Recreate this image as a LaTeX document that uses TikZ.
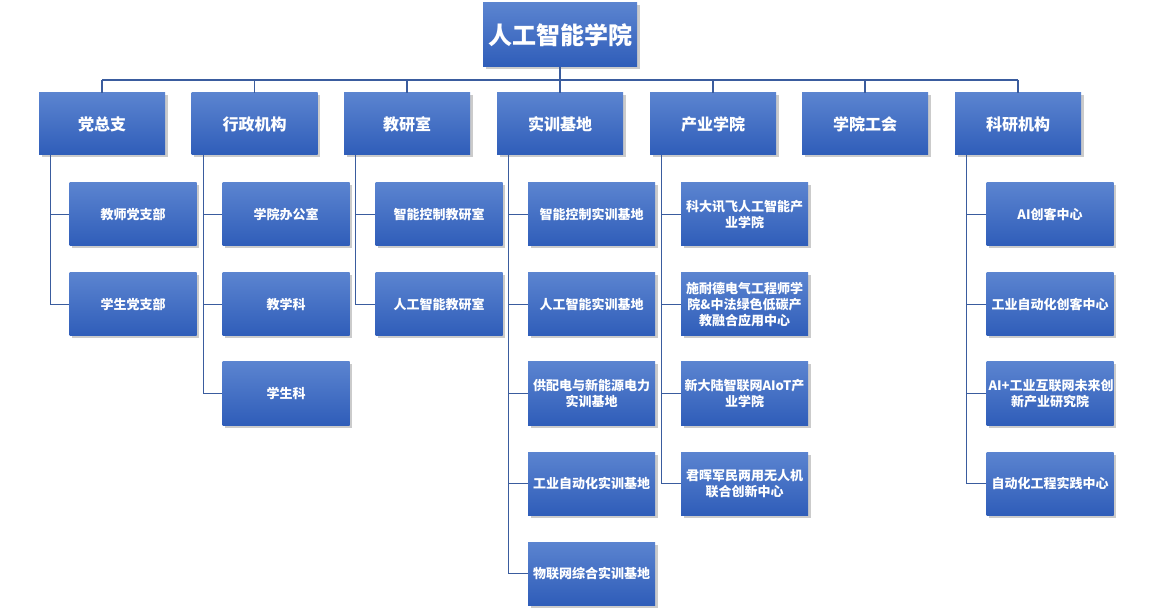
\documentclass[tikz,border=0pt]{standalone}
\usepackage{fontspec}
\newfontfamily\cjk{Noto Sans CJK SC}
\usetikzlibrary{shadows,calc}
\definecolor{boxtop}{HTML}{5B84D0}
\definecolor{boxbot}{HTML}{2F5DB9}
\definecolor{lineblue}{HTML}{3A5C9E}
\tikzset{
  box/.style={rectangle, top color=boxtop, bottom color=boxbot, draw=none,
    text=white, align=center, inner sep=2pt,
    drop shadow={shadow xshift=2.5pt, shadow yshift=-2.5pt, fill=black!45, opacity=0.45}},
  rootbox/.style={box, minimum width=154pt, minimum height=64pt, font=\cjk\bfseries\fontsize{24}{28}\selectfont},
  lvbox/.style={box, minimum width=126pt, minimum height=62pt, font=\cjk\bfseries\fontsize{16}{19}\selectfont},
  chbox/.style={box, minimum width=127pt, minimum height=63pt, text width=123pt, font=\cjk\bfseries\fontsize{13}{16}\selectfont},
  conn/.style={draw=lineblue, line width=1.3pt}
}
\begin{document}
\begin{tikzpicture}[x=1pt,y=-1pt]
\useasboundingbox (0,0) rectangle (1152,612);
% root
\node[rootbox] (root) at (560,35) {人工智能学院};
\coordinate (bus) at (560,80);
% level 2
\node[lvbox] (a) at (102,124) {党总支};
\node[lvbox] (b) at (254.5,124) {行政机构};
\node[lvbox] (c) at (407,124) {教研室};
\node[lvbox] (d) at (560,124) {实训基地};
\node[lvbox] (e) at (713,124) {产业学院};
\node[lvbox] (f) at (865,124) {学院工会};
\node[lvbox] (g) at (1018,124) {科研机构};
% children
\node[chbox] (a1) at (133,214.5) {教师党支部};
\node[chbox] (a2) at (133,304.5) {学生党支部};
\node[chbox] (b1) at (286,214.5) {学院办公室};
\node[chbox] (b2) at (286,304.5) {教学科};
\node[chbox] (b3) at (286,393.5) {学生科};
\node[chbox] (c1) at (439,214.5) {智能控制教研室};
\node[chbox] (c2) at (439,304.5) {人工智能教研室};
\node[chbox] (d1) at (591.5,214.5) {智能控制实训基地};
\node[chbox] (d2) at (591.5,304.5) {人工智能实训基地};
\node[chbox] (d3) at (591.5,393.5) {供配电与新能源电力\\实训基地};
\node[chbox] (d4) at (591.5,483.5) {工业自动化实训基地};
\node[chbox] (d5) at (591.5,573.5) {物联网综合实训基地};
\node[chbox] (e1) at (744.5,214.5) {科大讯飞人工智能产\\业学院};
\node[chbox] (e2) at (744.5,304.5) {施耐德电气工程师学\\院\&中法绿色低碳产\\教融合应用中心};
\node[chbox] (e3) at (744.5,393.5) {新大陆智联网AIoT产\\业学院};
\node[chbox] (e4) at (744.5,483.5) {君晖军民两用无人机\\联合创新中心};
\node[chbox] (g1) at (1050,214.5) {AI创客中心};
\node[chbox] (g2) at (1050,304.5) {工业自动化创客中心};
\node[chbox] (g3) at (1050,393.5) {AI+工业互联网未来创\\新产业研究院};
\node[chbox] (g4) at (1050,483.5) {自动化工程实践中心};
% connectors
\draw[conn] (root.south) -- (bus);
\draw[conn] (a.north |- bus) -- (g.north |- bus);
\foreach \n in {a,b,c,d,e,f,g}{
  \draw[conn] (\n.north |- bus) -- (\n.north);
}
\foreach \p/\cs in {a/{a1,a2}, b/{b1,b2,b3}, c/{c1,c2}, d/{d1,d2,d3,d4,d5}, e/{e1,e2,e3,e4}, g/{g1,g2,g3,g4}}{
  \foreach \c in \cs {
    \draw[conn] ([xshift=12pt]\p.south west) |- (\c.west);
  }
}
\end{tikzpicture}
\end{document}
